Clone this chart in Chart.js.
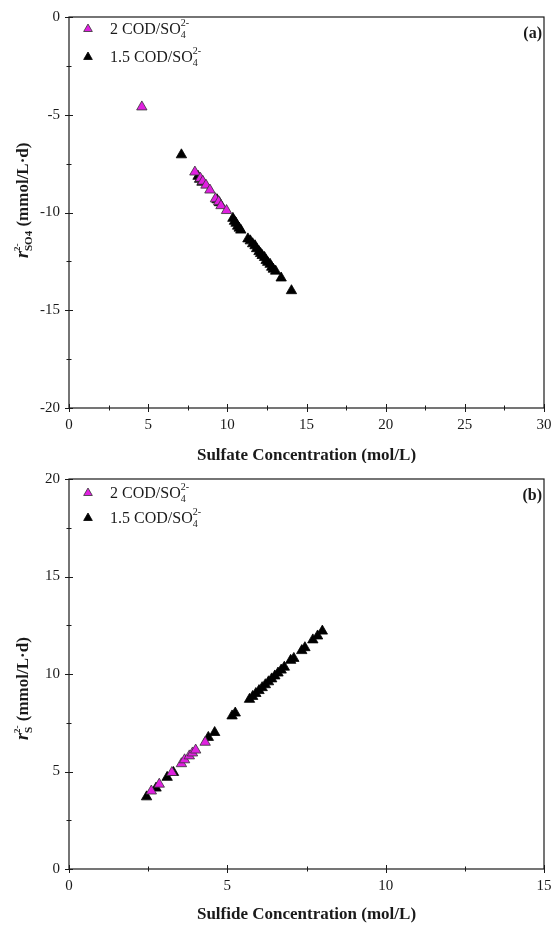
<!DOCTYPE html>
<html lang="en">
<head>
    <meta charset="UTF-8" />
    <title>Sulfate / Sulfide rates</title>
    <script src="https://cdn.jsdelivr.net/npm/chart.js@4.4.1/dist/chart.umd.min.js"></script>
    <style>
        body { margin: 0; background: #fff; }
        canvas { display: block; }
    </style>
</head>
<body>
    <canvas id="chartA" width="553" height="463"></canvas>
    <canvas id="chartB" width="553" height="464"></canvas>

    <script>
        // (a) sulfate concentration vs r_SO4
        const sulfateX2 = [4.6, 7.95, 8.3, 8.45, 8.65, 8.9, 9.25, 9.45, 9.6, 9.95];
        const sulfateR2 = [-4.6, -7.93, -8.25, -8.4, -8.6, -8.85, -9.3, -9.45, -9.65, -9.9];
        const sulfateX15 = [7.1, 8.15, 8.25, 8.4, 9.35, 9.5, 10.35, 10.45, 10.55, 10.65, 10.75, 10.85,
            11.3, 11.45, 11.6, 11.75, 11.85, 12.0, 12.1, 12.2, 12.35, 12.45, 12.55, 12.7, 12.8, 12.9,
            13.05, 13.4, 14.05];
        const sulfateR15 = [-7.05, -8.15, -8.3, -8.45, -9.35, -9.5, -10.3, -10.45, -10.55, -10.7, -10.8, -10.9,
            -11.35, -11.45, -11.6, -11.7, -11.85, -12.0, -12.1, -12.2, -12.3, -12.45, -12.55, -12.65, -12.8, -12.9,
            -13.0, -13.35, -14.0];

        // (b) sulfide concentration vs r_S
        const sulfideX2 = [2.6, 2.85, 3.25, 3.55, 3.65, 3.8, 3.9, 4.0, 4.3];
        const sulfideR2 = [4.0, 4.35, 4.95, 5.4, 5.6, 5.8, 5.95, 6.1, 6.5];
        const sulfideX15 = [2.45, 2.75, 3.1, 3.3, 4.4, 4.6, 5.15, 5.25, 5.7, 5.8, 5.9, 6.0, 6.1, 6.2, 6.3,
            6.4, 6.5, 6.6, 6.7, 6.8, 7.0, 7.1, 7.35, 7.45, 7.7, 7.85, 8.0];
        const sulfideR15 = [3.7, 4.15, 4.7, 4.95, 6.75, 7.0, 7.85, 8.0, 8.7, 8.85, 9.0, 9.15, 9.3, 9.45, 9.6,
            9.75, 9.9, 10.05, 10.2, 10.35, 10.7, 10.8, 11.2, 11.35, 11.75, 11.95, 12.2];

        const seriesNames = ['2 COD/SO', '1.5 COD/SO'];
        const xTicksA = [0, 30], yTicksA = [-20, 0];
        const xTicksB = [0, 15], yTicksB = [0, 20];

        const SERIF = '"Liberation Serif", "Times New Roman", serif';
        const MAGENTA = '#e020e0';
        const INK = '#1a1a1a';

        const pts = (xs, ys) => xs.map((x, i) => ({ x: x, y: ys[i] }));

        // draws text made of pieces; "keep" pieces stack (sub + sup at same x)
        function drawRich(ctx, x, y, parts) {
            let cx = x, hold = 0;
            for (const p of parts) {
                ctx.font = p.font;
                ctx.fillText(p.t, cx, y + (p.dy || 0));
                const w = ctx.measureText(p.t).width;
                if (p.keep) hold = Math.max(hold, w);
                else { cx += Math.max(w, hold); hold = 0; }
            }
            return cx - x;
        }

        function triangle(ctx, x, y, r, fill, stroke) {
            ctx.beginPath();
            for (let k = 0; k < 3; k++) {
                const a = -Math.PI / 2 + k * 2 * Math.PI / 3;
                const px = x + Math.cos(a) * r, py = y + Math.sin(a) * r;
                k ? ctx.lineTo(px, py) : ctx.moveTo(px, py);
            }
            ctx.closePath();
            ctx.fillStyle = fill; ctx.fill();
            ctx.strokeStyle = stroke; ctx.lineWidth = 0.8; ctx.stroke();
        }

        // frame, in-out ticks, legend, axis titles, panel tag
        const decor = {
            id: 'decor',
            afterDraw(chart, args, o) {
                const { ctx, chartArea: a, scales: { x, y } } = chart;
                ctx.save();
                ctx.strokeStyle = INK;
                ctx.lineWidth = 1.2;
                ctx.strokeRect(a.left, a.top, a.right - a.left, a.bottom - a.top);

                ctx.lineWidth = 1;
                ctx.beginPath();
                for (let v = x.min; v <= x.max + 1e-9; v += 2.5) {
                    const px = Math.round(x.getPixelForValue(v)) + 0.5;
                    const len = (v % 5 === 0) ? 4 : 2.5;
                    ctx.moveTo(px, a.bottom - len); ctx.lineTo(px, a.bottom + len);
                }
                for (let v = y.min; v <= y.max + 1e-9; v += 2.5) {
                    const py = Math.round(y.getPixelForValue(v)) + 0.5;
                    const len = (v % 5 === 0) ? 4 : 2.5;
                    ctx.moveTo(a.left - len, py); ctx.lineTo(a.left + len, py);
                }
                ctx.stroke();

                // legend
                ctx.fillStyle = INK;
                ctx.textBaseline = 'alphabetic';
                ctx.textAlign = 'left';
                const colors = [MAGENTA, '#000'];
                seriesNames.forEach((name, i) => {
                    const ly = a.top + o.legendTop + i * o.legendGap;
                    triangle(ctx, 88, ly, 5, colors[i], i ? '#000' : '#333');
                    ctx.fillStyle = INK;
                    drawRich(ctx, 110, ly + 5, [
                        { t: name, font: '16px ' + SERIF },
                        { t: '4', font: '10px ' + SERIF, dy: 4, keep: true },
                        { t: '2-', font: '10px ' + SERIF, dy: -8 }
                    ]);
                });

                // panel tag
                ctx.font = 'bold 16px ' + SERIF;
                ctx.textAlign = 'right';
                ctx.fillText(o.tag, a.right - 2, a.top + 21);

                // x title
                ctx.textAlign = 'center';
                ctx.textBaseline = 'middle';
                ctx.font = 'bold 17px ' + SERIF;
                ctx.fillText(o.xTitle, (a.left + a.right) / 2, o.xTitleY);

                // y title, rotated
                ctx.textBaseline = 'alphabetic';
                ctx.translate(22, o.yTitleStart);
                ctx.rotate(-Math.PI / 2);
                ctx.textAlign = 'left';
                drawRich(ctx, 0, 6, [
                    { t: 'r', font: 'italic bold 18px ' + SERIF },
                    { t: o.ySub, font: 'bold 11px ' + SERIF, dy: 4, keep: true },
                    { t: '2-', font: 'bold 9px ' + SERIF, dy: -8 },
                    { t: ' (mmol/L\u00b7d)', font: 'bold 17px ' + SERIF }
                ]);
                ctx.restore();
            }
        };

        function makeChart(id, s2, s15, xr, yr, extra, layoutTop, xHeight) {
            const tickFont = { family: SERIF, size: 15 };
            return new Chart(document.getElementById(id), {
                type: 'scatter',
                data: {
                    datasets: [
                        {
                            label: seriesNames[0], data: s2, order: 0,
                            pointStyle: 'triangle', pointRadius: 6,
                            backgroundColor: MAGENTA, borderColor: '#333', borderWidth: 0.8
                        },
                        {
                            label: seriesNames[1], data: s15, order: 1,
                            pointStyle: 'triangle', pointRadius: 6,
                            backgroundColor: '#000', borderColor: '#000', borderWidth: 0.8
                        }
                    ]
                },
                options: {
                    responsive: false,
                    animation: false,
                    layout: { padding: { top: layoutTop, right: 9, left: 0, bottom: 0 } },
                    plugins: { legend: { display: false }, tooltip: { enabled: false }, decor: extra },
                    scales: {
                        x: {
                            type: 'linear', min: xr[0], max: xr[1],
                            afterFit: s => { s.height = xHeight; s.paddingRight = 0; s.paddingLeft = 0; },
                            grid: { display: false, drawTicks: false },
                            border: { display: false },
                            ticks: { stepSize: 5, padding: 8, font: tickFont, color: INK }
                        },
                        y: {
                            type: 'linear', min: yr[0], max: yr[1],
                            afterFit: s => { s.width = 69; s.paddingTop = 0; s.paddingBottom = 0; },
                            grid: { display: false, drawTicks: false },
                            border: { display: false },
                            ticks: { stepSize: 5, padding: 9, font: tickFont, color: INK }
                        }
                    }
                },
                plugins: [decor]
            });
        }

        makeChart('chartA', pts(sulfateX2, sulfateR2), pts(sulfateX15, sulfateR15), xTicksA, yTicksA, {
            tag: '(a)', xTitle: 'Sulfate Concentration (mol/L)', xTitleY: 456,
            ySub: 'SO4', yTitleStart: 258, legendTop: 12, legendGap: 28
        }, 17, 55);

        makeChart('chartB', pts(sulfideX2, sulfideR2), pts(sulfideX15, sulfideR15), xTicksB, yTicksB, {
            tag: '(b)', xTitle: 'Sulfide Concentration (mol/L)', xTitleY: 452,
            ySub: 'S', yTitleStart: 277, legendTop: 14, legendGap: 25
        }, 16, 58);
    </script>
</body>
</html>
